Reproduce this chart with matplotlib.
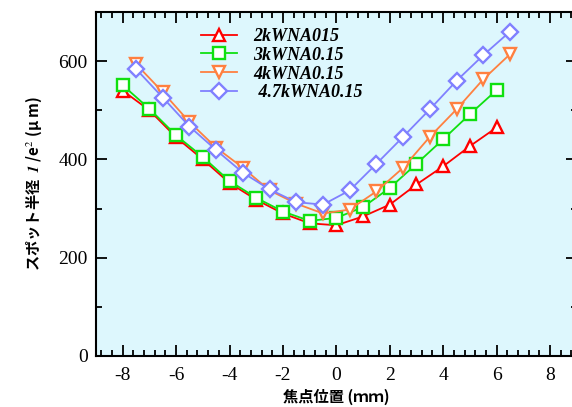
import numpy as np
import matplotlib
matplotlib.use("Agg")
import matplotlib.pyplot as plt
from matplotlib.ticker import MultipleLocator

# data
x_int = [-8, -7, -6, -5, -4, -3, -2, -1, 0, 1, 2, 3, 4, 5, 6]
x_half = [-7.5, -6.5, -5.5, -4.5, -3.5, -2.5, -1.5, -0.5, 0.5, 1.5, 2.5, 3.5, 4.5, 5.5, 6.5]

r_2k = [540, 500, 445, 400, 352, 318, 290, 270, 266, 284, 308, 349, 386, 427, 465]
r_3k = [551, 503, 449, 405, 356, 322, 294, 275, 281, 303, 342, 391, 441, 492, 541]
r_4k = [594, 537, 476, 424, 383, 337, 310, 290, 298, 335, 383, 446, 502, 563, 614]
r_47k = [584, 526, 467, 419, 373, 339, 313, 308, 337, 391, 446, 502, 560, 612, 660]

labels = ["2kWNA015", "3kWNA0.15", "4kWNA0.15", " 4.7kWNA0.15"]

plt.rcParams['mathtext.fontset'] = 'stix'
plt.rcParams['axes.unicode_minus'] = False

fig = plt.figure(figsize=(5.72, 4.07), dpi=100)
ax = fig.add_axes([96 / 572, 1 - 356 / 407, (576.7 - 96) / 572, (356 - 12) / 407])
ax.set_facecolor('#DDF7FD')

ax.plot(x_int, r_2k, '-^', color='#FF0000', mfc='white', mec='#FF0000', ms=9, mew=1.7, lw=1.3, label=labels[0])
ax.plot(x_int, r_3k, '-s', color='#10E010', mfc='white', mec='#10E010', ms=9, mew=1.7, lw=1.3, label=labels[1])
ax.plot(x_half, r_4k, '-v', color='#FF8040', mfc='white', mec='#FF8040', ms=9, mew=1.7, lw=1.3, label=labels[2])
ax.plot(x_half, r_47k, '-D', color='#8080FF', mfc='white', mec='#8080FF', ms=8.5, mew=1.7, lw=1.3, label=labels[3])

ax.set_xlim(-9, 9)
ax.set_ylim(0, 700)
ax.xaxis.set_major_locator(MultipleLocator(2))
ax.xaxis.set_minor_locator(MultipleLocator(0.4))
ax.yaxis.set_major_locator(MultipleLocator(200))
ax.yaxis.set_minor_locator(MultipleLocator(100))
ax.tick_params(which='both', direction='in', top=True, right=True, width=1.3)
ax.tick_params(which='major', length=8)
ax.tick_params(which='minor', length=4)
for lab in ax.get_xticklabels() + ax.get_yticklabels():
    lab.set_family('Liberation Serif')
    lab.set_fontsize(14)
ax.tick_params(axis='x', pad=8)
ax.tick_params(axis='y', pad=6)
for s in ax.spines.values():
    s.set_linewidth(1.5)

ax.set_xlabel("焦点位置 (ｍｍ)", family=['Noto Sans CJK JP', 'DejaVu Sans'],
              fontsize=11, fontweight='bold', style='italic', labelpad=3)
ax.set_ylabel("スポット半径  $\\mathbfit{1}$ /e$^{2}$ (μ m)",
              family=['Noto Sans CJK JP', 'DejaVu Sans'], fontsize=11,
              fontweight='bold', labelpad=10)

leg = ax.legend(loc='upper left', bbox_to_anchor=(0.2, 0.98), frameon=False,
                borderpad=0, handlelength=2.0, handletextpad=0.9, labelspacing=0.1,
                prop={'family': 'Liberation Serif', 'weight': 'bold', 'style': 'italic', 'size': 13})

fig.savefig("out.png", dpi=100)
